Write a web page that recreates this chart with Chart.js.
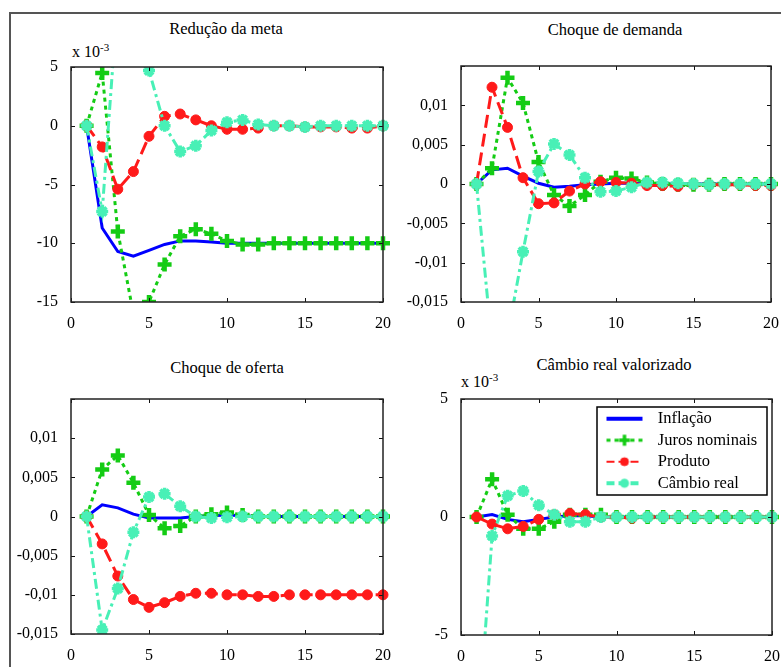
<!DOCTYPE html>
<html><head><meta charset="utf-8">
<script src="https://cdn.jsdelivr.net/npm/chart.js@4.4.1/dist/chart.umd.min.js"></script>
<style>
html,body{margin:0;padding:0;background:#fff;width:781px;height:667px;overflow:hidden;position:relative;font-family:'Liberation Serif','Times New Roman',serif;color:#000;}
.frame{position:absolute;left:9px;top:12px;width:900px;height:900px;border-left:2px solid #555;border-top:2px solid #555;}
canvas{position:absolute;}
.title{position:absolute;font-size:16.5px;transform:translate(-50%,-50%);white-space:nowrap;line-height:20px;}
.expo{position:absolute;font-size:16px;white-space:nowrap;line-height:16px;}
.expo sup{font-size:11px;vertical-align:6px;line-height:0;}
</style></head><body>
<div class="frame"></div>
<div class="title" style="left:226px;top:29px">Redução da meta</div>
<div class="title" style="left:615px;top:30px">Choque de demanda</div>
<div class="title" style="left:227px;top:368px">Choque de oferta</div>
<div class="title" style="left:614px;top:365px">Câmbio real valorizado</div>
<div class="expo" style="left:72px;top:44px">x 10<sup>-3</sup></div>
<div class="expo" style="left:461px;top:374px">x 10<sup>-3</sup></div>
<canvas id="c1" width="396" height="281" style="left:1px;top:55px"></canvas>
<canvas id="c2" width="394" height="282" style="left:391px;top:54px"></canvas>
<canvas id="c3" width="396" height="281" style="left:1px;top:387px"></canvas>
<canvas id="c4" width="395" height="282" style="left:391px;top:387px"></canvas>
<script>
// ---- data ----
const periods = [1,2,3,4,5,6,7,8,9,10,11,12,13,14,15,16,17,18,19,20];
const seriesNames = ['Inflação','Juros nominais','Produto','Câmbio real'];

// Redução da meta (x 10^-3)
const metaInflacao = [0,-8.7,-10.7,-11.1,-10.6,-10.1,-9.8,-9.8,-9.9,-10.0,-10.0,-10.0,-10.0,-10.0,-10.0,-10.0,-10.0,-10.0,-10.0,-10.0];
const metaJuros    = [0,4.5,-9.0,-16.0,-15.0,-11.8,-9.4,-8.8,-9.2,-9.8,-10.1,-10.1,-10.0,-10.0,-10.0,-10.0,-10.0,-10.0,-10.0,-10.0];
const metaProduto  = [0,-1.8,-5.4,-3.9,-0.9,0.8,1.0,0.5,0.0,-0.3,-0.3,-0.2,0.0,0.0,-0.1,-0.1,-0.1,-0.2,-0.2,0.0];
const metaCambio   = [0,-7.3,11.0,12.0,4.7,0.0,-2.2,-1.7,-0.4,0.3,0.5,0.1,0.0,0.0,-0.1,0.0,0.0,0.0,0.0,0.0];

// Choque de demanda
const demInflacao = [0,0.0018,0.0020,0.0010,0.0001,-0.0004,-0.0003,-0.0001,0,0.0001,0.0001,0,0,0,0,0,0,0,0,0];
const demJuros    = [0,0.0020,0.0135,0.0103,0.0028,-0.0014,-0.0028,-0.0014,0.0003,0.0008,0.0007,0.0002,0,-0.0001,-0.0001,-0.0001,0,0,0,0];
const demProduto  = [0,0.0123,0.0072,0.0008,-0.0025,-0.0024,-0.0009,0,0.0003,0.0002,0.0001,-0.0002,-0.0002,-0.0003,-0.0001,-0.0001,-0.0001,-0.0001,-0.0002,-0.0002];
const demCambio   = [0,-0.0205,-0.0193,-0.0086,0.0016,0.0051,0.0037,0.0008,-0.0010,-0.0009,-0.0004,0.0002,0.0002,0.0001,0,-0.0001,0,0,0,0];

// Choque de oferta
const ofeInflacao = [0,0.0015,0.0011,0.0003,-0.0002,-0.0002,-0.0002,0,0.0001,0.0002,0.0001,0,0,0,0,0,0,0,0,0];
const ofeJuros    = [0,0.0060,0.0078,0.0043,0.0002,-0.0015,-0.0012,0,0.0003,0.0005,0.0002,0,0,0,0,0,0,0,0,0];
const ofeProduto  = [0,-0.0035,-0.0076,-0.0106,-0.0116,-0.0110,-0.0102,-0.0098,-0.0098,-0.0100,-0.0100,-0.0102,-0.0102,-0.0100,-0.0100,-0.0100,-0.0100,-0.0100,-0.0100,-0.0100];
const ofeCambio   = [0,-0.0145,-0.0092,-0.0020,0.0025,0.0029,0.0013,0,-0.0002,-0.0001,0,0,0,0,0,0,0,0,0,0];

// Câmbio real valorizado (x 10^-3)
const camInflacao = [0,0.1,-0.1,-0.2,-0.1,0.0,0.05,0.05,0,0,0,0,0,0,0,0,0,0,0,0];
const camJuros    = [0,1.6,0.1,-0.5,-0.5,-0.2,0.1,0.1,0.1,0,0,0,0,0,0,0,0,0,0,0];
const camProduto  = [0,-0.3,-0.5,-0.4,-0.1,0.1,0.15,0.1,0,0,-0.05,0,0,0,0,0,0,0,0,0];
const camCambio   = [-10.0,-0.8,0.9,1.1,0.5,0.1,-0.2,-0.2,0,0,0,0,0,0,0,0,0,0,0,0];

// ---- styles ----
const BLUE = '#0000ff', GREEN = '#14cc14', RED = '#ff1a1a', AQUA = '#48f0b6';
Chart.defaults.font.family = "'Liberation Serif', serif";
Chart.defaults.font.size = 16;
Chart.defaults.color = '#000';

const pts = arr => periods.map((p, i) => ({x: p, y: arr[i]}));
const clip = {left: 10, right: 10, top: 0, bottom: 0};

function series(inf, jur, pro, cam) {
  const base = {fill: false, tension: 0, borderWidth: 3, clip: clip, pointHoverRadius: 0};
  return [
    Object.assign({}, base, {label: seriesNames[0], data: pts(inf), borderColor: BLUE, pointRadius: 0, order: 4}),
    Object.assign({}, base, {label: seriesNames[1], data: pts(jur), borderColor: GREEN, borderDash: [4, 4],
      pointStyle: 'cross', pointRadius: 7, pointBorderWidth: 4.5, pointBorderColor: GREEN, pointBackgroundColor: GREEN, order: 3}),
    Object.assign({}, base, {label: seriesNames[2], data: pts(pro), borderColor: RED, borderDash: [13, 6],
      pointStyle: 'circle', pointRadius: 5, pointBorderWidth: 1, pointBorderColor: RED, pointBackgroundColor: RED, order: 2}),
    Object.assign({}, base, {label: seriesNames[3], data: pts(cam), borderColor: AQUA, borderDash: [10, 4, 3, 4],
      pointStyle: 'star', pointRadius: 6, pointBorderWidth: 3.5, pointBorderColor: AQUA, pointBackgroundColor: AQUA, order: 1})
  ];
}

const fmtComma = v => { const r = +(+v).toFixed(4); if (Math.abs(r - 0.015) < 1e-9) return ''; return String(r).replace('.', ','); };
const fmtPlain = v => String(Math.round(v));

function options(ymin, ymax, ystep, fmt) {
  return {
    responsive: false, animation: false, devicePixelRatio: 1, events: [],
    layout: {padding: {top: 12, right: 14, left: 0, bottom: 0}},
    plugins: {legend: {display: false}, tooltip: {enabled: false}},
    scales: {
      x: {type: 'linear', min: 0, max: 20,
          ticks: {stepSize: 5, padding: 12, maxRotation: 0, autoSkip: false},
          grid: {display: false, drawTicks: false}, border: {display: false},
          afterFit: s => { s.height = 34; s.paddingLeft = 0; s.paddingRight = 0; }},
      y: {type: 'linear', min: ymin, max: ymax,
          ticks: {stepSize: ystep, padding: 13, autoSkip: false, callback: fmt},
          grid: {display: false, drawTicks: false}, border: {display: false},
          afterFit: s => { s.width = 70; s.paddingTop = 0; s.paddingBottom = 0; }}
    }
  };
}

const frameTicks = {
  id: 'frameTicks',
  afterDatasetsDraw(chart) {
    const {ctx, chartArea: a, scales: {x, y}} = chart;
    const L = 4;
    ctx.save();
    ctx.strokeStyle = '#111'; ctx.lineWidth = 1;
    ctx.beginPath();
    x.ticks.forEach(t => { const px = Math.round(x.getPixelForValue(t.value)) + 0.5;
      ctx.moveTo(px, a.bottom); ctx.lineTo(px, a.bottom - L); ctx.moveTo(px, a.top); ctx.lineTo(px, a.top + L); });
    y.ticks.forEach(t => { const py = Math.round(y.getPixelForValue(t.value)) + 0.5;
      ctx.moveTo(a.left, py); ctx.lineTo(a.left + L, py); ctx.moveTo(a.right, py); ctx.lineTo(a.right - L, py); });
    ctx.stroke();
    ctx.strokeStyle = '#222'; ctx.lineWidth = 1.5;
    ctx.strokeRect(a.left, a.top, a.right - a.left, a.bottom - a.top);
    ctx.restore();
  }
};

function sample(color, dash, width, style, radius, bw) {
  const c = document.createElement('canvas'); c.width = 38; c.height = 16;
  const g = c.getContext('2d');
  g.strokeStyle = color; g.fillStyle = color; g.lineWidth = width; g.setLineDash(dash);
  g.beginPath(); g.moveTo(1, 8); g.lineTo(37, 8); g.stroke();
  g.setLineDash([]);
  if (style) {
    g.lineWidth = bw;
    Chart.helpers.drawPoint(g, {pointStyle: style, radius: radius, borderWidth: bw, rotation: 0}, 19, 8);
  }
  return c;
}

const legendPlace = {
  id: 'legendPlace',
  afterLayout(chart) {
    const lg = chart.legend; if (!lg) return;
    lg.left = 203.5; lg.top = 18.5; lg.width = 200; lg.height = 200;
    lg.right = lg.left + 200; lg.bottom = lg.top + 200;
  },
  beforeDraw(chart) {
    const ctx = chart.ctx;
    ctx.save(); ctx.fillStyle = '#fff'; ctx.fillRect(206, 20, 170, 88);
    ctx.strokeStyle = '#000'; ctx.lineWidth = 1.5; ctx.strokeRect(206, 20, 170, 88); ctx.restore();
  }
};

new Chart(document.getElementById('c1'), {type: 'line',
  data: {datasets: series(metaInflacao, metaJuros, metaProduto, metaCambio)},
  options: options(-15, 5, 5, fmtPlain), plugins: [frameTicks]});
new Chart(document.getElementById('c2'), {type: 'line',
  data: {datasets: series(demInflacao, demJuros, demProduto, demCambio)},
  options: options(-0.015, 0.015, 0.005, fmtComma), plugins: [frameTicks]});
new Chart(document.getElementById('c3'), {type: 'line',
  data: {datasets: series(ofeInflacao, ofeJuros, ofeProduto, ofeCambio)},
  options: options(-0.015, 0.015, 0.005, fmtComma), plugins: [frameTicks]});

const opt4 = options(-5, 5, 5, fmtPlain);
const samples = [
  sample(BLUE, [], 4, null),
  sample(GREEN, [4, 4], 3, 'cross', 5.5, 3.5),
  sample(RED, [8, 4], 2, 'circle', 4, 1),
  sample(AQUA, [8, 4], 4, 'star', 4.5, 3)
];
opt4.plugins.legend = {
  display: true, position: 'left', align: 'start', maxWidth: 0.01,
  labels: {
    usePointStyle: true, pointStyleWidth: 50, padding: 5, color: '#000',
    font: {size: 16.5},
    generateLabels: chart => seriesNames.map((n, i) => ({
      text: n, pointStyle: samples[i], fillStyle: 'rgba(0,0,0,0)', strokeStyle: 'rgba(0,0,0,0)',
      lineWidth: 0, hidden: false, datasetIndex: i, fontColor: '#000'
    }))
  }
};
new Chart(document.getElementById('c4'), {type: 'line',
  data: {datasets: series(camInflacao, camJuros, camProduto, camCambio)},
  options: opt4, plugins: [frameTicks, legendPlace]});
</script>
</body></html>
